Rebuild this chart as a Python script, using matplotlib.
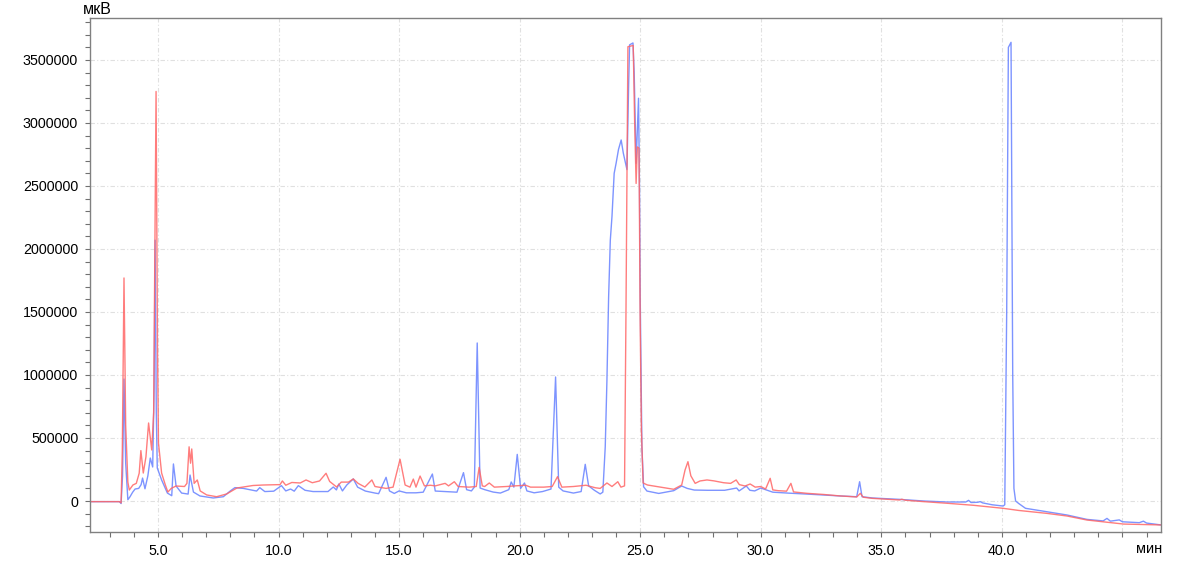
import matplotlib.pyplot as plt
from matplotlib.ticker import MultipleLocator, FormatStrFormatter, FuncFormatter

# ---- данные хроматограмм (время, мин / сигнал, мкВ) ----
t_blue = [2.18, 3.40, 3.47, 3.53, 3.59, 3.66, 3.75, 3.84, 3.95, 4.05, 4.20, 4.30, 4.36, 4.46,
          4.58, 4.68, 4.78, 4.84, 4.88, 4.93, 4.97, 5.15, 5.39, 5.57, 5.64, 5.75, 5.98, 6.25,
          6.33, 6.47, 6.74, 7.29, 7.71, 8.00, 8.19, 8.54, 9.09, 9.22, 9.43, 9.80, 10.12, 10.30,
          10.50, 10.65, 10.82, 11.10, 11.43, 12.05, 12.27, 12.40, 12.50, 12.65, 12.83, 13.10,
          13.28, 13.60, 14.00, 14.15, 14.46, 14.60, 14.80, 15.00, 15.30, 15.70, 16.00, 16.38,
          16.50, 16.90, 17.40, 17.67, 17.80, 18.00, 18.12, 18.24, 18.36, 18.55, 18.90, 19.20,
          19.55, 19.65, 19.76, 19.90, 20.04, 20.20, 20.30, 20.60, 20.95, 21.30, 21.49, 21.62,
          21.80, 22.23, 22.55, 22.72, 22.86, 23.10, 23.34, 23.45, 23.55, 23.62, 23.69, 23.76,
          23.83, 23.92, 24.00, 24.10, 24.21, 24.30, 24.45, 24.52, 24.56, 24.70, 24.75, 24.83,
          24.93, 24.97, 25.00, 25.07, 25.14, 25.28, 25.77, 26.39, 26.72, 26.95, 27.24, 27.80,
          28.50, 29.00, 29.10, 29.40, 29.55, 29.75, 30.00, 30.20, 30.50, 31.20, 31.91, 33.30,
          33.98, 34.10, 34.20, 34.63, 35.50, 35.75, 36.76, 37.73, 38.50, 38.62, 38.72, 39.00,
          39.10, 39.20, 39.60, 40.05, 40.12, 40.20, 40.27, 40.38, 40.45, 40.50, 40.57, 40.70,
          40.98, 41.86, 42.70, 43.53, 44.20, 44.36, 44.50, 44.87, 45.00, 45.70, 45.87, 46.00,
          46.60]
v_blue = [-5000, -5000, -20000, 200000, 968000, 300000, 10000, 34000, 70000, 95000, 100000,
          130000, 182000, 97000, 200000, 341000, 270000, 900000, 2070000, 700000, 262000,
          167000, 63000, 42000, 294000, 119000, 63000, 55000, 206000, 71000, 40000, 24000,
          34000, 80000, 106000, 100000, 79000, 106000, 75000, 78000, 122000, 80000, 95000,
          78000, 122000, 85000, 75000, 75000, 111000, 88000, 135000, 80000, 127000, 175000,
          110000, 79000, 63000, 58000, 188000, 80000, 60000, 80000, 65000, 65000, 70000,
          214000, 79000, 75000, 70000, 225000, 90000, 80000, 110000, 1254000, 103000, 90000,
          71000, 63000, 90000, 151000, 110000, 370000, 100000, 143000, 80000, 65000, 75000,
          95000, 984000, 110000, 80000, 63000, 75000, 291000, 120000, 85000, 56000, 70000,
          431000, 960000, 1620000, 2070000, 2260000, 2600000, 2680000, 2790000, 2865000,
          2760000, 2630000, 3300000, 3620000, 3635000, 3400000, 2680000, 3196000, 2500000,
          1620000, 431000, 113000, 79000, 60000, 82000, 119000, 100000, 87000, 85000, 85000,
          103000, 80000, 119000, 85000, 80000, 103000, 90000, 70000, 62000, 55000, 40000,
          34000, 153000, 34000, 24000, 15000, 13000, 0, -8000, -8000, 5000, -12000, -10000,
          -5000, -15000, -30000, -40000, -30000, 1500000, 3600000, 3640000, 1000000, 100000,
          0, -20000, -58000, -85000, -111000, -146000, -158000, -138000, -160000, -150000,
          -165000, -172000, -160000, -175000, -190000]

t_red = [2.18, 3.40, 3.47, 3.52, 3.59, 3.66, 3.75, 3.81, 3.96, 4.10, 4.22, 4.29, 4.39, 4.50,
         4.61, 4.74, 4.82, 4.92, 4.98, 5.02, 5.15, 5.30, 5.41, 5.55, 5.75, 6.10, 6.20, 6.29,
         6.35, 6.40, 6.50, 6.63, 6.75, 7.02, 7.43, 7.85, 8.27, 8.94, 9.37, 10.06, 10.16, 10.30,
         10.55, 10.90, 11.14, 11.40, 11.70, 11.97, 12.12, 12.41, 12.60, 12.90, 13.10, 13.30,
         13.58, 13.87, 14.00, 14.46, 14.75, 15.04, 15.25, 15.45, 15.59, 15.70, 15.87, 16.05,
         16.30, 16.50, 16.91, 17.05, 17.29, 17.45, 17.90, 18.20, 18.32, 18.45, 18.55, 18.74,
         18.95, 19.45, 19.80, 20.25, 20.45, 21.00, 21.35, 21.57, 21.75, 22.23, 22.75, 23.14,
         23.34, 23.62, 23.83, 24.07, 24.20, 24.35, 24.41, 24.49, 24.71, 24.77, 24.83, 24.88,
         24.95, 25.00, 25.05, 25.12, 25.30, 26.39, 26.72, 26.86, 26.98, 27.10, 27.28, 27.48,
         27.77, 28.05, 28.46, 28.75, 28.98, 29.11, 29.35, 29.56, 29.77, 30.00, 30.20, 30.39,
         30.50, 30.72, 31.07, 31.25, 31.36, 31.91, 32.60, 33.30, 33.98, 34.13, 34.25, 34.63,
         35.75, 35.85, 36.00, 36.76, 37.73, 38.82, 40.05, 40.70, 41.86, 42.70, 43.53, 45.05,
         46.60]
v_red = [-5000, -5000, -15000, 400000, 1770000, 600000, 150000, 87000, 127000, 140000, 220000,
         400000, 222000, 350000, 619000, 405000, 700000, 3250000, 1200000, 460000, 222000,
         130000, 71000, 100000, 119000, 115000, 140000, 430000, 300000, 413000, 140000,
         167000, 80000, 48000, 34000, 56000, 103000, 123000, 127000, 130000, 159000, 125000,
         147000, 143000, 167000, 145000, 159000, 220000, 155000, 111000, 150000, 150000,
         175000, 140000, 111000, 167000, 115000, 100000, 110000, 331000, 127000, 110000,
         174000, 110000, 198000, 120000, 125000, 120000, 140000, 120000, 153000, 115000,
         110000, 115000, 267000, 120000, 115000, 143000, 110000, 115000, 120000, 125000,
         110000, 110000, 115000, 193000, 110000, 115000, 125000, 105000, 100000, 143000,
         115000, 153000, 110000, 120000, 1500000, 3605000, 3615000, 3000000, 2520000,
         2810000, 2800000, 1400000, 563000, 143000, 127000, 93000, 127000, 246000, 312000,
         200000, 140000, 159000, 167000, 160000, 145000, 140000, 167000, 130000, 119000,
         135000, 110000, 115000, 95000, 180000, 88000, 82000, 78000, 140000, 72000, 61000,
         52000, 40000, 32000, 61000, 30000, 21000, 8000, 14000, 6000, -5000, -18000, -34000,
         -58000, -75000, -98000, -119000, -151000, -183000, -190000]

plt.rcParams['font.family'] = ['Liberation Sans', 'DejaVu Sans']

fig = plt.figure(figsize=(11.88, 5.77), dpi=100)
ax = fig.add_axes([90 / 1188, 1 - 532 / 577, 1071 / 1188, 514 / 577])

ax.plot(t_blue, v_blue, color='#6f88ff', lw=1.0, alpha=0.9)
ax.plot(t_red, v_red, color='#ff6666', lw=1.0, alpha=0.85)

ax.set_xlim(2.18, 46.6)
ax.set_ylim(-246000, 3833000)

# подписи оси X только до 40.0, справа стоит "мин"
ax.xaxis.set_major_locator(MultipleLocator(5))
ax.xaxis.set_minor_locator(MultipleLocator(1))
ax.xaxis.set_major_formatter(FuncFormatter(lambda x, p: '' if x > 42 else f'{x:.1f}'))
ax.yaxis.set_major_locator(MultipleLocator(500000))
ax.yaxis.set_minor_locator(MultipleLocator(100000))
ax.yaxis.set_major_formatter(FormatStrFormatter('%d'))

ax.grid(True, which='major', color='#e0e0e0', lw=0.8, linestyle=(0, (4, 2, 1, 2)))
ax.set_axisbelow(True)

for s in ax.spines.values():
    s.set_color('#808080')
    s.set_linewidth(1.0)

ax.tick_params(which='both', direction='out', length=3.5, width=0.8, color='#707070',
               labelsize=10.3, labelcolor='black')
ax.tick_params(axis='y', pad=5)
ax.tick_params(axis='x', pad=5)

fig.text(83 / 1188, 1 - 10 / 577, 'мкВ', fontsize=11.5, ha='left', va='center')
fig.text(1162 / 1188, 1 - 549 / 577, 'мин', fontsize=10.5, ha='right', va='center')

fig.savefig('out.png', dpi=100)
